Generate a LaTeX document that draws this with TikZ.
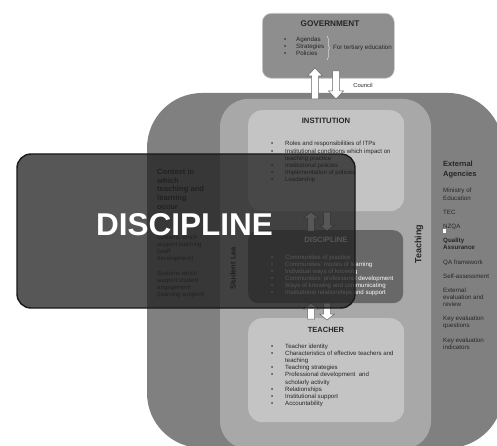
\documentclass[tikz,border=0pt]{standalone}
\usepackage{fontspec}
\setmainfont{Liberation Sans}
\usetikzlibrary{decorations.pathreplacing}
\definecolor{outerg}{HTML}{7F807F}
\definecolor{midg}{HTML}{A8A8A8}
\definecolor{boxg}{HTML}{C4C4C4}
\definecolor{discg}{HTML}{686868}
\definecolor{govg}{HTML}{8E8E8E}
\definecolor{txt}{HTML}{262626}
\newcommand\blkup[4][8]{\draw[blkarrow] ({#2-3.5},#3) -- ({#2-3.5},{#4+#1}) -- ({#2-7.5},{#4+#1}) -- (#2,#4) -- ({#2+7.5},{#4+#1}) -- ({#2+3.5},{#4+#1}) -- ({#2+3.5},#3) -- cycle;}
\newcommand\blkdown[4][8]{\draw[blkarrow] ({#2-3.5},#3) -- ({#2-3.5},{#4-#1}) -- ({#2-7.5},{#4-#1}) -- (#2,#4) -- ({#2+7.5},{#4-#1}) -- ({#2+3.5},{#4-#1}) -- ({#2+3.5},#3) -- cycle;}
\begin{document}
\begin{tikzpicture}[x=1pt,y=-1pt,
  blkarrow/.style={fill=white,draw=black!60,line width=0.5pt},
  lbox/.style={fill=boxg,rounded corners=14,draw=none,anchor=north west,inner sep=0},
  heading/.style={font=\bfseries\fontsize{7.7}{9}\selectfont,text=txt,inner sep=0},
  body/.style={font=\fontsize{6.1}{7.2}\selectfont,text=txt,inner sep=0,anchor=base west},
  discveil/.style={fill=black!88,fill opacity=0.75,draw=black!90,line width=1.4pt,rounded corners=14}]
\useasboundingbox (0,0) rectangle (497,446);
\clip (0,0) rectangle (497,446);
% background shapes
\fill[outerg,rounded corners=55] (147,93) rectangle (503,448);
\fill[midg,rounded corners=28] (220,99) rectangle (431,449);
% government
\node[fill=govg,draw=white!80!black,line width=0.6pt,rounded corners=9,minimum width=132,minimum height=65,anchor=north west,inner sep=0] (gov) at (262,13) {};
\node[heading,font=\bfseries\fontsize{8.2}{9}\selectfont] (govtitle) at (330,24) {GOVERNMENT};
\node[body,font=\fontsize{6.2}{6.7}\selectfont] (govlist) at (284,42) {\begin{tabular}[t]{@{}p{12pt}@{}l@{}}\textbullet & Agendas\\ \textbullet & Strategies\\ \textbullet & Policies\end{tabular}};
\draw[decorate,decoration={brace,amplitude=2.5pt},white!85!black,line width=0.5pt] (327,36) -- (327,60);
\node[body,font=\fontsize{6.2}{7}\selectfont,anchor=west] (tertiary) at (333,47.5) {For tertiary education};
\node[font=\fontsize{5.8}{7}\selectfont,text=txt,inner sep=0] (council) at (363,85) {Council};
\blkup{315}{99}{68}
\blkdown{336}{71}{99}
% institution
\node[lbox,minimum width=156,minimum height=101] (inst) at (248,110) {};
\node[heading] (insttitle) at (326,121) {INSTITUTION};
\node[body] (instlist) at (271,146) {\begin{tabular}[t]{@{}p{14pt}@{}l@{}}\textbullet & Roles and responsibilities of ITPs\\ \textbullet & Institutional conditions which impact on\\ & teaching practice\\ \textbullet & Institutional policies\\ \textbullet & Implementation of policies\\ \textbullet & Leadership\end{tabular}};
% discipline
\node[fill=discg,rounded corners=10,minimum width=155,minimum height=73,anchor=north west,inner sep=0] (disc) at (248,230) {};
\node[heading,text=white] (disctitle) at (326,239.5) {DISCIPLINE};
\node[body,text=white,font=\fontsize{6.1}{7}\selectfont] (disclist) at (271,259) {\begin{tabular}[t]{@{}p{14pt}@{}l@{}}\textbullet & Communities of practice\\ \textbullet & Communities' modes of learning\\ \textbullet & Individual ways of knowing\\ \textbullet & Communities' professional development\\ \textbullet & Ways of knowing and communicating\\ \textbullet & Institutional relationships and support\end{tabular}};
% teacher
\node[lbox,minimum width=156,minimum height=104] (teacher) at (248,318) {};
\node[heading,font=\bfseries\fontsize{7.5}{9}\selectfont] (teachtitle) at (326,329.5) {TEACHER};
\node[body] (teachlist) at (271,348) {\begin{tabular}[t]{@{}p{14pt}@{}l@{}}\textbullet & Teacher identity\\ \textbullet & Characteristics of effective teachers and\\ & teaching\\ \textbullet & Teaching strategies\\ \textbullet & Professional development\ \ and\\ & scholarly activity\\ \textbullet & Relationships\\ \textbullet & Institutional support\\ \textbullet & Accountability\end{tabular}};
% arrows between boxes
\blkup[6]{311}{231}{212}
\blkdown[6]{327}{212}{231}
\blkup[6]{311}{319}{303}
\blkdown[6]{327}{303}{320}
% side labels
\node[rotate=90,font=\bfseries\fontsize{9}{10}\selectfont,text=txt,inner sep=0] (teachlbl) at (419,244) {Teaching};
\node[rotate=90,font=\bfseries\fontsize{7.5}{9}\selectfont,text=txt,inner sep=0] (studlbl) at (233,268.5) {Student Lea};
% context column
\node[body,font=\bfseries\fontsize{7.6}{8.7}\selectfont] (ctxhead) at (157,174.5) {\begin{tabular}[t]{@{}l@{}}Context in\\ which\\ teaching and\\ learning\\ occur\end{tabular}};
\node[body,font=\fontsize{6}{7.2}\selectfont] (ctxlist) at (157,239) {\begin{tabular}[t]{@{}l@{}}Systems which\\ support teaching\\ (staff\\ development)\\ \\ Systems which\\ support student\\ engagement\\ (learning support)\end{tabular}};
% external agencies column
\node[body,font=\bfseries\fontsize{7.5}{10}\selectfont] (exthead) at (443,166.5) {\begin{tabular}[t]{@{}l@{}}External\\ Agencies\end{tabular}};
\node[body,font=\fontsize{6.2}{7.1}\selectfont] (extlist) at (443,193) {\begin{tabular}[t]{@{}l@{}}Ministry of\\ Education\\ \\ TEC\\ \\ NZQA\\ \\ \textbf{Quality}\\ \textbf{Assurance}\\ \\ QA framework\\ \\ Self-assessment\\ \\ External\\ evaluation and\\ review\\ \\ Key evaluation\\ questions\\ \\ Key evaluation\\ indicators\end{tabular}};
\fill[white] (443,229) rectangle (445.5,233);
% discipline overlay
\draw[discveil] (17,154) rectangle (355,308);
\node[font=\bfseries\fontsize{31.5}{36}\selectfont,text=white,inner sep=0] (bigdisc) at (184.5,224.5) {DISCIPLINE};
\end{tikzpicture}
\end{document}
